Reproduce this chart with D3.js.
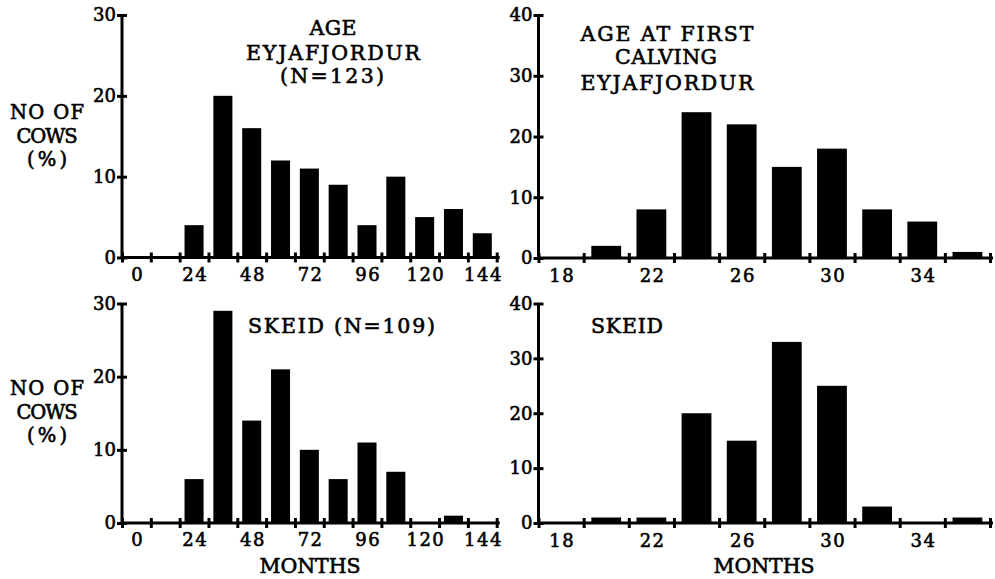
<!DOCTYPE html>
<html>
<head>
<meta charset="utf-8">
<script src="https://cdn.jsdelivr.net/npm/d3@7"></script>
<style>
  html, body { margin: 0; padding: 0; background: #fff; }
  svg { display: block; }
  text { font-family: "DejaVu Serif", "Liberation Serif", serif; fill: #000; stroke: #000; stroke-width: 0.6px; }
</style>
</head>
<body>
<svg id="chart" width="995" height="579"></svg>
<script>
// ---- data ----
const ageBins = [0, 12, 24, 36, 48, 60, 72, 84, 96, 108, 120, 132, 144];
const ageEyjafjordur = [0, 0, 4, 20, 16, 12, 11, 9, 4, 10, 5, 6, 3];
const ageSkeid = [0, 0, 6, 29, 14, 21, 10, 6, 11, 7, 0, 1, 0];
const ageTickLabels = [0, 24, 48, 72, 96, 120, 144];
const ageYTicks = [0, 10, 20, 30];

const calvingBins = [18, 20, 22, 24, 26, 28, 30, 32, 34, 36];
const calvingEyjafjordur = [0, 2, 8, 24, 22, 15, 18, 8, 6, 1];
const calvingSkeid = [0, 1, 1, 20, 15, 33, 25, 3, 0, 1];
const calvingTickLabels = [18, 22, 26, 30, 34];
const calvingYTicks = [0, 10, 20, 30, 40];

const yLabelLines = ["NO OF", "COWS", "(%)"];
const xLabel = "MONTHS";

// ---- layout ----
const svg = d3.select("#chart");

function edgesOf(bins) {
  const step = bins[1] - bins[0];
  return bins.map(b => b - step / 2).concat([bins[bins.length - 1] + step / 2]);
}

function styleText(sel, size) {
  sel.attr("font-size", size)
    .attr("font-family", '"DejaVu Serif", serif')
    .attr("fill", "#000")
    .attr("stroke", "#000")
    .attr("stroke-width", 0.6);
}

function panel(opts) {
  const { bins, values, labels, yTicks, yMax, xRange, yRange, labelOffset } = opts;
  const step = bins[1] - bins[0];
  const x = d3.scaleLinear()
    .domain([bins[0] - step / 2, bins[bins.length - 1] + step / 2])
    .range(xRange);
  const y = d3.scaleLinear().domain([0, yMax]).range(yRange);
  const g = svg.append("g");
  const barW = (x(step) - x(0)) * 0.66;

  // bars
  g.selectAll("rect.bar")
    .data(bins.map((b, i) => ({ b, v: values[i] })))
    .join("rect")
    .attr("class", "bar")
    .attr("x", d => x(d.b) - barW / 2)
    .attr("width", barW)
    .attr("y", d => y(d.v))
    .attr("height", d => y(0) - y(d.v))
    .attr("fill", "#000");

  // x axis with ticks at bin edges (crossing the axis line)
  const xAxis = g.append("g")
    .attr("transform", `translate(0,${y(0)})`)
    .call(d3.axisBottom(x).tickValues(edgesOf(bins)).tickFormat("").tickSizeOuter(0));
  xAxis.select(".domain").remove();
  xAxis.append("line")
    .attr("x1", xRange[0]).attr("x2", xRange[1] + 3)
    .attr("y1", 0).attr("y2", 0)
    .attr("stroke", "#000").attr("stroke-width", 3);
  xAxis.selectAll(".tick line")
    .attr("y1", -5).attr("y2", 5)
    .attr("stroke", "#000").attr("stroke-width", 3);

  // x labels at bin centres
  const xLab = g.append("g")
    .attr("transform", `translate(0,${y(0)})`)
    .call(d3.axisBottom(x).tickValues(labels).tickSize(0));
  xLab.select(".domain").remove();
  styleText(xLab.selectAll(".tick text").attr("y", labelOffset).attr("dy", 0)
    .attr("letter-spacing", 1.5).attr("dx", 0.75), 18);

  // y axis
  const yAxis = g.append("g")
    .attr("transform", `translate(${xRange[0]},0)`)
    .call(d3.axisLeft(y).tickValues(yTicks).tickSizeOuter(0));
  yAxis.select(".domain").attr("stroke", "#000").attr("stroke-width", 3)
    .attr("d", `M0,${y(0) + 1.5}V${y(yMax)}`);
  yAxis.selectAll(".tick line")
    .attr("x1", -5).attr("x2", 5)
    .attr("stroke", "#000").attr("stroke-width", 3);
  styleText(yAxis.selectAll(".tick text").attr("x", -6), 18);
  return { x, y, g };
}

const LX = [122, 496.7], RX = [538.5, 990];
const TY_L = [257.5, 15], TY_R = [258, 15], BY = [523, 303.5];

panel({ bins: ageBins, values: ageEyjafjordur, labels: ageTickLabels, yTicks: ageYTicks, yMax: 30,
        xRange: LX, yRange: TY_L, labelOffset: 23.5 });
panel({ bins: ageBins, values: ageSkeid, labels: ageTickLabels, yTicks: ageYTicks, yMax: 30,
        xRange: LX, yRange: BY, labelOffset: 23 });
panel({ bins: calvingBins, values: calvingEyjafjordur, labels: calvingTickLabels, yTicks: calvingYTicks, yMax: 40,
        xRange: RX, yRange: TY_R, labelOffset: 24 });
panel({ bins: calvingBins, values: calvingSkeid, labels: calvingTickLabels, yTicks: calvingYTicks, yMax: 40,
        xRange: RX, yRange: BY, labelOffset: 24 });

// ---- texts ----
function label(txt, cx, baseline, size, len) {
  const t = svg.append("text")
    .attr("x", cx).attr("y", baseline)
    .attr("text-anchor", "middle")
    .attr("font-size", size)
    .text(txt);
  if (len) t.attr("textLength", len).attr("lengthAdjust", "spacing");
  return t;
}

// titles
label("AGE", 333, 34.5, 20.5, 47);
label("EYJAFJORDUR", 333, 59.5, 20.5, 174);
label("(N=123)", 332, 82.5, 20.5, 104);

label("AGE AT FIRST", 667, 40.5, 20.5, 173);
label("CALVING", 666, 64, 20.5, 102);
label("EYJAFJORDUR", 667, 89.5, 20.5, 173);

svg.append("text").attr("x", 248).attr("y", 333).attr("font-size", 20.5)
  .attr("textLength", 187).attr("lengthAdjust", "spacing").text("SKEID (N=109)");
svg.append("text").attr("x", 591).attr("y", 333).attr("font-size", 20.5)
  .attr("textLength", 72).attr("lengthAdjust", "spacing").text("SKEID");

// y axis labels
const yLabWidths = [74, 61, 40];
[119, 395].forEach(base => {
  yLabelLines.forEach((ln, i) => {
    label(ln, 47, base + i * 23.5, 19.5, yLabWidths[i]);
  });
});

// x axis labels
label(xLabel, 310, 573, 20.5, 101);
label(xLabel, 764, 573, 20.5, 101);
</script>
</body>
</html>
